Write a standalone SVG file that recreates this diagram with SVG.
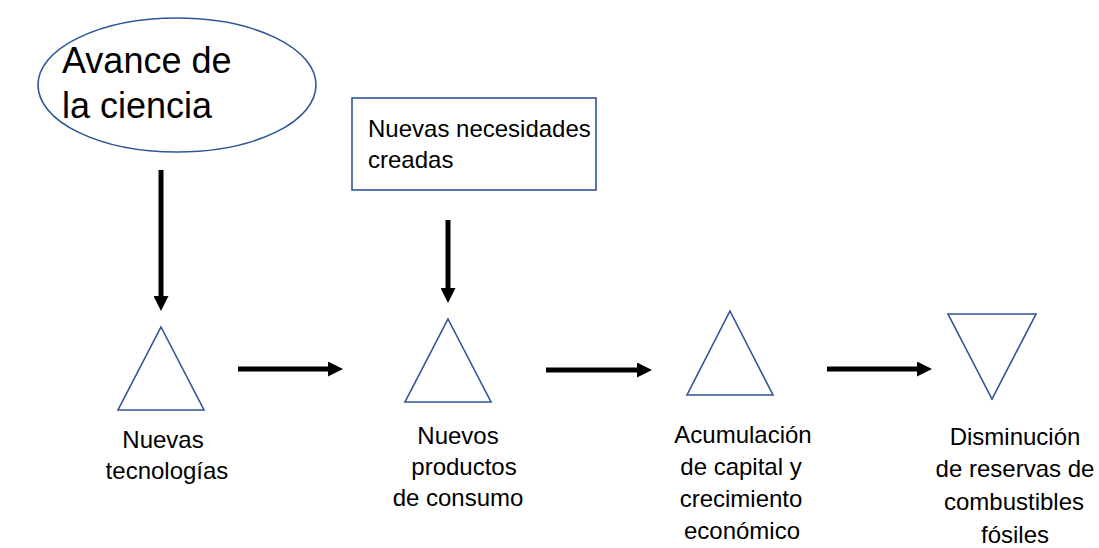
<svg xmlns="http://www.w3.org/2000/svg" width="1099" height="548" viewBox="0 0 1099 548">
<style>
.shape{fill:#fff;stroke:#2F5597;stroke-width:1.6}
.t{font-family:"Liberation Sans",Arial,sans-serif;fill:#000}
.lbl{font-size:24px;text-anchor:middle}
.conn{stroke:#000;stroke-width:5;fill:none}
</style>
<defs>
<marker id="ah" markerUnits="userSpaceOnUse" markerWidth="15" markerHeight="15" refX="0" refY="7.5" orient="auto">
<path d="M0,0 L15,7.5 L0,15 z" fill="#000"/>
</marker>
</defs>
<rect width="1099" height="548" fill="#fff"/>
<g id="avance">
<ellipse class="shape" cx="177" cy="85" rx="139" ry="67"/>
<text class="t" x="62" y="73" font-size="36">Avance de</text>
<text class="t" x="62" y="118" font-size="36">la ciencia</text>
</g>
<g id="necesidades">
<rect class="shape" x="352" y="98" width="244" height="92"/>
<text class="t" x="368" y="137" font-size="24">Nuevas necesidades</text>
<text class="t" x="368" y="168" font-size="24">creadas</text>
</g>
<g id="tecnologias">
<polygon class="shape" points="161,327 204,410 118,410"/>
<text class="t lbl" x="163" y="448">Nuevas</text>
<text class="t lbl" x="167" y="479">tecnologías</text>
</g>
<g id="productos">
<polygon class="shape" points="448,319 491,402 405,402"/>
<text class="t lbl" x="458" y="444">Nuevos</text>
<text class="t lbl" x="464" y="475">productos</text>
<text class="t lbl" x="458" y="506">de consumo</text>
</g>
<g id="acumulacion">
<polygon class="shape" points="730,311 773,395 687,395"/>
<text class="t lbl" x="743" y="443">Acumulación</text>
<text class="t lbl" x="741" y="475">de capital y</text>
<text class="t lbl" x="741" y="507">crecimiento</text>
<text class="t lbl" x="742" y="539">económico</text>
</g>
<g id="disminucion">
<polygon class="shape" points="948,314 1036,314 992,399"/>
<text class="t lbl" x="1015" y="445">Disminución</text>
<text class="t lbl" x="1015" y="477">de reservas de</text>
<text class="t lbl" x="1014" y="510">combustibles</text>
<text class="t lbl" x="1015" y="543">fósiles</text>
</g>
<g id="connectors">
<line class="conn" x1="161" y1="170" x2="161" y2="296" marker-end="url(#ah)"/>
<line class="conn" x1="448" y1="220" x2="448" y2="288" marker-end="url(#ah)"/>
<line class="conn" x1="238" y1="369" x2="328" y2="369" marker-end="url(#ah)"/>
<line class="conn" x1="546" y1="370" x2="637" y2="370" marker-end="url(#ah)"/>
<line class="conn" x1="827" y1="369" x2="917" y2="369" marker-end="url(#ah)"/>
</g>
</svg>
